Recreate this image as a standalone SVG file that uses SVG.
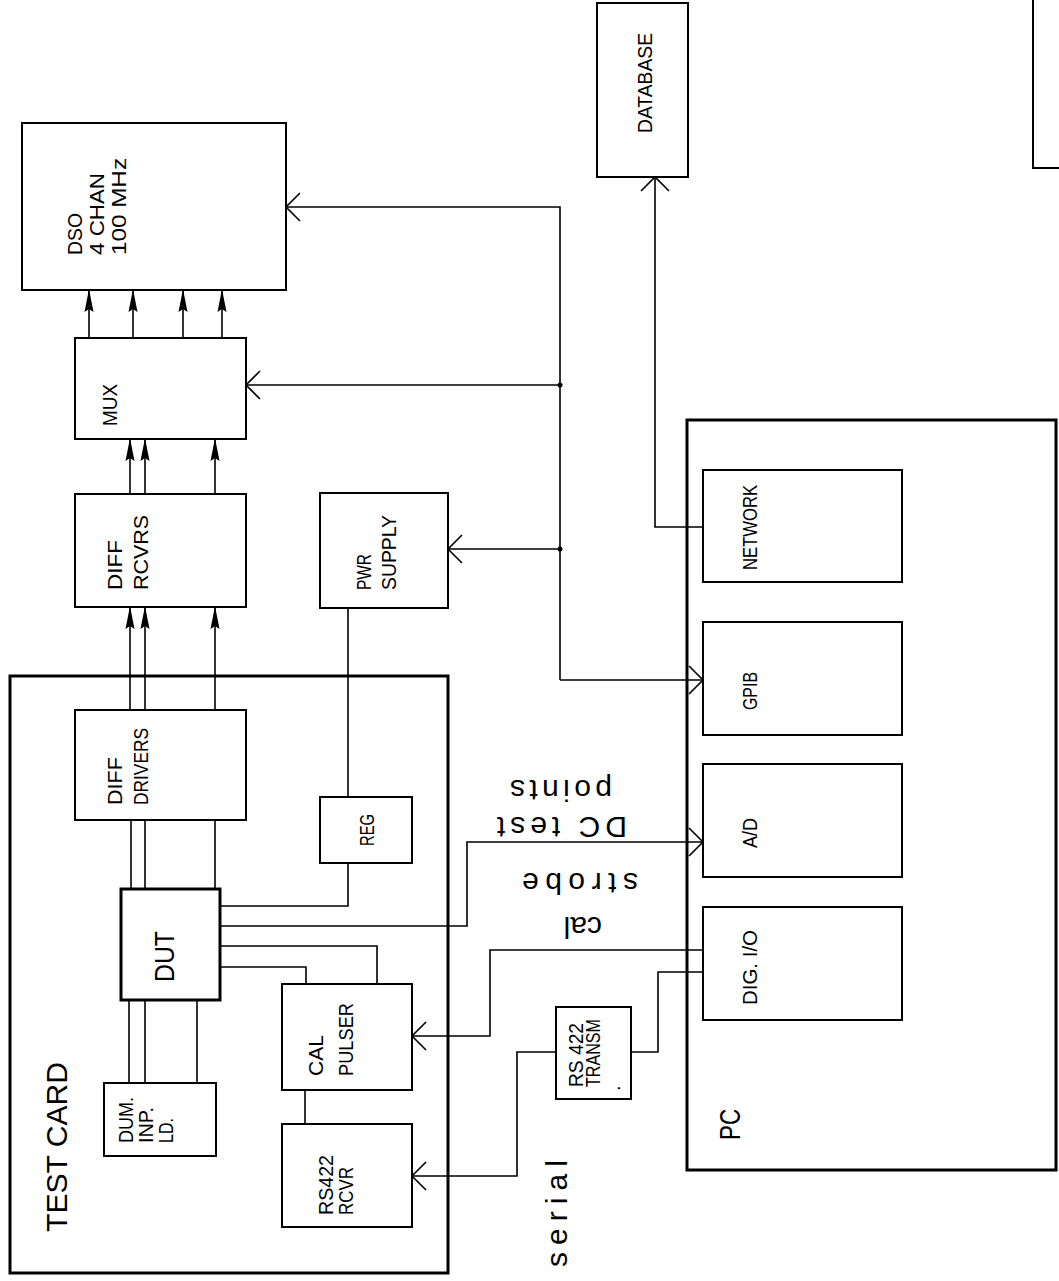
<svg xmlns="http://www.w3.org/2000/svg" width="1059" height="1281" viewBox="0 0 1059 1281">
<defs>
<style>
.box{fill:#fff;stroke:#000;stroke-width:2}
.thick{fill:none;stroke:#000;stroke-width:3}
.ln{fill:none;stroke:#000;stroke-width:1.6}
.t{font-family:"Liberation Sans",Arial,sans-serif;font-size:20px;fill:#000}
.big{font-size:29px}
.lc{font-size:30px}
</style>
<marker id="open" markerUnits="userSpaceOnUse" markerWidth="40" markerHeight="40" viewBox="-20 -20 40 40" refX="0" refY="0" orient="auto" overflow="visible">
<path d="M-14,-14 L0,0 L-14,14" fill="none" stroke="#000" stroke-width="1.6"/>
</marker>
<marker id="fill" markerUnits="userSpaceOnUse" markerWidth="40" markerHeight="40" viewBox="-30 -10 40 20" refX="0" refY="0" orient="auto" overflow="visible">
<path d="M1,0 L-22,-4.5 L-19,0 L-22,4.5 Z" fill="#000"/>
</marker>
</defs>
<rect width="1059" height="1281" fill="#fff"/>

<g id="connectors">
<path class="ln" d="M560,680 L560,207 L286,207" marker-end="url(#open)"/>
<path class="ln" d="M560,680 L703,680" marker-end="url(#open)"/>
<path class="ln" d="M560,385 L246,385" marker-end="url(#open)"/>
<path class="ln" d="M560,549 L448,549" marker-end="url(#open)"/>
<circle cx="560" cy="385" r="2.5" fill="#000"/>
<circle cx="560" cy="549" r="2.5" fill="#000"/>
<path class="ln" d="M703,527 L655,527 L655,177" marker-end="url(#open)"/>
<path class="ln" d="M89,338 L89,290" marker-end="url(#fill)"/>
<path class="ln" d="M133,338 L133,290" marker-end="url(#fill)"/>
<path class="ln" d="M183,338 L183,290" marker-end="url(#fill)"/>
<path class="ln" d="M222,338 L222,290" marker-end="url(#fill)"/>
<path class="ln" d="M130,494 L130,439" marker-end="url(#fill)"/>
<path class="ln" d="M145,494 L145,439" marker-end="url(#fill)"/>
<path class="ln" d="M215,494 L215,439" marker-end="url(#fill)"/>
<path class="ln" d="M130,710 L130,607" marker-end="url(#fill)"/>
<path class="ln" d="M145,710 L145,607" marker-end="url(#fill)"/>
<path class="ln" d="M215,710 L215,607" marker-end="url(#fill)"/>
<path class="ln" d="M131,889 L131,820 M145,889 L145,820 M215,889 L215,820"/>
<path class="ln" d="M129,1000 L129,1083 M145,1000 L145,1083 M197,1000 L197,1083"/>
<path class="ln" d="M348,608 L348,797"/>
<path class="ln" d="M348,863 L348,906 L220,906"/>
<path class="ln" d="M220,926 L467,926 L467,842 L703,842" marker-end="url(#open)"/>
<path class="ln" d="M220,946 L377,946 L377,984"/>
<path class="ln" d="M220,967 L306,967 L306,984"/>
<path class="ln" d="M305,1090 L305,1124"/>
<path class="ln" d="M703,950 L490,950 L490,1036 L412,1036" marker-end="url(#open)"/>
<path class="ln" d="M703,972 L658,972 L658,1052 L631,1052"/>
<path class="ln" d="M556,1052 L517,1052 L517,1176 L412,1176" marker-end="url(#open)"/>
</g>

<g id="test-card">
<rect class="thick" x="10" y="676" width="438" height="597"/>
<text class="t big" x="67" y="1232" transform="rotate(-90 67 1232)" textLength="170" lengthAdjust="spacingAndGlyphs">TEST CARD</text>
</g>

<g id="pc">
<rect class="thick" x="687" y="420" width="369" height="750"/>
<text class="t big" x="740" y="1140" transform="rotate(-90 740 1140)" textLength="31" lengthAdjust="spacingAndGlyphs">PC</text>
</g>

<g id="dso">
<rect class="box" x="22" y="123" width="264" height="167"/>
<text class="t" x="82" y="255" transform="rotate(-90 82 255)" textLength="42" lengthAdjust="spacingAndGlyphs">DSO</text>
<text class="t" x="104" y="255" transform="rotate(-90 104 255)" textLength="82" lengthAdjust="spacingAndGlyphs">4 CHAN</text>
<text class="t" x="126" y="255" transform="rotate(-90 126 255)" textLength="97" lengthAdjust="spacingAndGlyphs">100 MHz</text>
</g>

<g id="mux">
<rect class="box" x="75" y="338" width="171" height="101"/>
<text class="t" x="117" y="426" transform="rotate(-90 117 426)" textLength="42" lengthAdjust="spacingAndGlyphs">MUX</text>
</g>

<g id="diff-rcvrs">
<rect class="box" x="75" y="494" width="171" height="113"/>
<text class="t" x="122" y="590" transform="rotate(-90 122 590)" textLength="50" lengthAdjust="spacingAndGlyphs">DIFF</text>
<text class="t" x="148" y="590" transform="rotate(-90 148 590)" textLength="75" lengthAdjust="spacingAndGlyphs">RCVRS</text>
</g>

<g id="diff-drivers">
<rect class="box" x="75" y="710" width="171" height="110"/>
<text class="t" x="122" y="805" transform="rotate(-90 122 805)" textLength="48" lengthAdjust="spacingAndGlyphs">DIFF</text>
<text class="t" x="148" y="805" transform="rotate(-90 148 805)" textLength="77" lengthAdjust="spacingAndGlyphs">DRIVERS</text>
</g>

<g id="pwr-supply">
<rect class="box" x="320" y="493" width="128" height="115"/>
<text class="t" x="371" y="590" transform="rotate(-90 371 590)" textLength="36" lengthAdjust="spacingAndGlyphs">PWR</text>
<text class="t" x="396" y="590" transform="rotate(-90 396 590)" textLength="75" lengthAdjust="spacingAndGlyphs">SUPPLY</text>
</g>

<g id="reg">
<rect class="box" x="320" y="797" width="92" height="66"/>
<text class="t" x="374" y="846" transform="rotate(-90 374 846)" textLength="32" lengthAdjust="spacingAndGlyphs">REG</text>
</g>

<g id="dut">
<rect class="thick" x="121" y="889" width="99" height="111" fill="#fff"/>
<text class="t" style="font-size:28px" x="174" y="982" transform="rotate(-90 174 982)" textLength="51" lengthAdjust="spacingAndGlyphs">DUT</text>
</g>

<g id="dum-inp-ld">
<rect class="box" x="104" y="1083" width="112" height="73"/>
<text class="t" x="133" y="1143" transform="rotate(-90 133 1143)" textLength="46" lengthAdjust="spacingAndGlyphs">DUM.</text>
<text class="t" x="153" y="1143" transform="rotate(-90 153 1143)" textLength="36" lengthAdjust="spacingAndGlyphs">INP.</text>
<text class="t" x="173" y="1143" transform="rotate(-90 173 1143)" textLength="25" lengthAdjust="spacingAndGlyphs">LD.</text>
</g>

<g id="cal-pulser">
<rect class="box" x="282" y="984" width="130" height="106"/>
<text class="t" x="323" y="1076" transform="rotate(-90 323 1076)" textLength="41" lengthAdjust="spacingAndGlyphs">CAL</text>
<text class="t" x="353" y="1076" transform="rotate(-90 353 1076)" textLength="73" lengthAdjust="spacingAndGlyphs">PULSER</text>
</g>

<g id="rs422-rcvr">
<rect class="box" x="282" y="1124" width="130" height="103"/>
<text class="t" x="333" y="1215" transform="rotate(-90 333 1215)" textLength="60" lengthAdjust="spacingAndGlyphs">RS422</text>
<text class="t" x="353" y="1215" transform="rotate(-90 353 1215)" textLength="48" lengthAdjust="spacingAndGlyphs">RCVR</text>
</g>

<g id="rs422-transm">
<rect class="box" x="556" y="1007" width="75" height="92"/>
<text class="t" x="583" y="1087" transform="rotate(-90 583 1087)" textLength="64" lengthAdjust="spacingAndGlyphs">RS 422</text>
<text class="t" x="600" y="1087" transform="rotate(-90 600 1087)" textLength="68" lengthAdjust="spacingAndGlyphs">TRANSM</text>
<text class="t" x="620" y="1091" transform="rotate(-90 620 1091)">.</text>
</g>

<g id="database">
<rect class="box" x="597" y="3" width="91" height="174"/>
<text class="t" x="652" y="133" transform="rotate(-90 652 133)" textLength="100" lengthAdjust="spacingAndGlyphs">DATABASE</text>
</g>

<g id="network">
<rect class="box" x="703" y="470" width="199" height="112"/>
<text class="t" x="757" y="570" transform="rotate(-90 757 570)" textLength="85" lengthAdjust="spacingAndGlyphs">NETWORK</text>
</g>

<g id="gpib">
<rect class="box" x="703" y="622" width="199" height="113"/>
<text class="t" x="757" y="710" transform="rotate(-90 757 710)" textLength="38" lengthAdjust="spacingAndGlyphs">GPIB</text>
</g>

<g id="ad">
<rect class="box" x="703" y="764" width="199" height="113"/>
<text class="t" x="757" y="848" transform="rotate(-90 757 848)" textLength="30" lengthAdjust="spacingAndGlyphs">A/D</text>
</g>

<g id="dig-io">
<rect class="box" x="703" y="907" width="199" height="113"/>
<text class="t" x="757" y="1005" transform="rotate(-90 757 1005)" textLength="75" lengthAdjust="spacingAndGlyphs">DIG. I/O</text>
</g>

<g id="partial-box">
<path d="M1033,0 L1033,168 L1059,168" fill="none" stroke="#000" stroke-width="2"/>
</g>

<g id="labels">
<text class="t lc" x="627" y="817" transform="rotate(180 627 817)" textLength="130" lengthAdjust="spacing">DC test</text>
<text class="t lc" x="612" y="780" transform="rotate(180 612 780)" textLength="102" lengthAdjust="spacing">points</text>
<text class="t lc" x="602" y="917" transform="rotate(180 602 917)">cal</text>
<text class="t lc" x="638" y="873" transform="rotate(180 638 873)" textLength="116" lengthAdjust="spacing">strobe</text>
<text class="t lc" x="567" y="1267" transform="rotate(-90 567 1267)" textLength="107" lengthAdjust="spacing">serial</text>
</g>
</svg>
